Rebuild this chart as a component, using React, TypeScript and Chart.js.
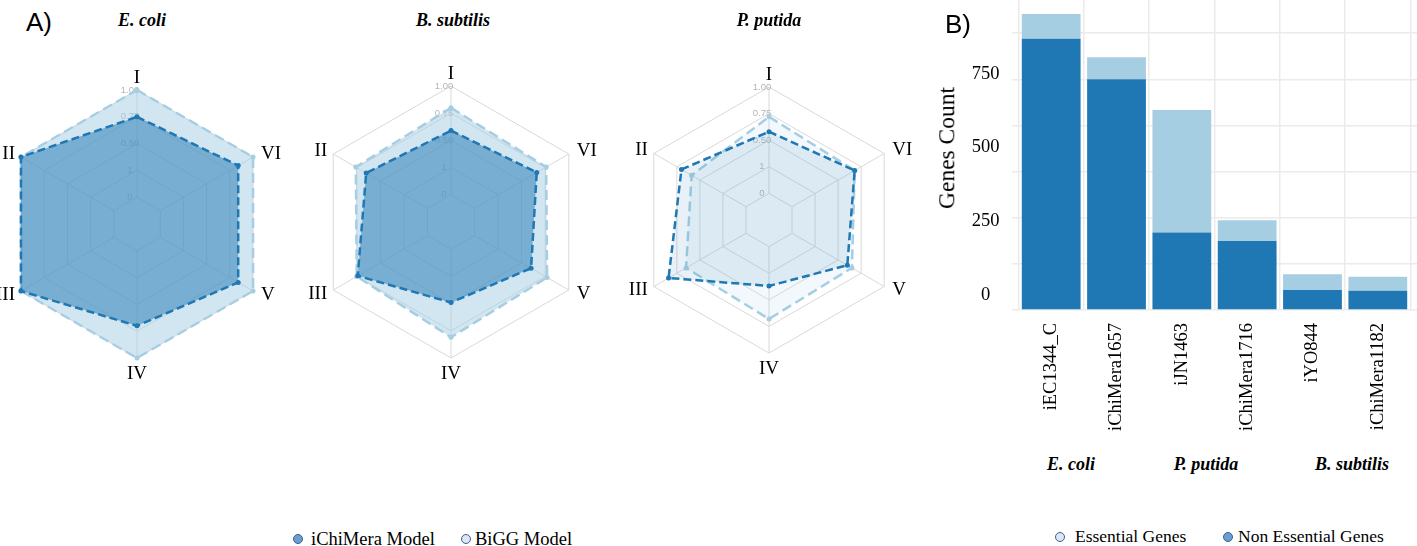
import React, { useEffect, useRef } from "react";
import { Chart, registerables } from "chart.js";
Chart.register(...registerables);

// ---------- data ----------
const DARK = "#1f78b4";
const LIGHT = "#a6cee3";

// radar axes, clockwise from the top
const AXES = ["I", "VI", "V", "IV", "III", "II"];
const RADAR_TICKS = [0, 0.25, 0.5, 0.75, 1];
const RADAR_TICK_LABELS = ["0", "1", "0.50", "0.75", "1.00"];

const ECOLI_ICHIMERA = [0.75, 0.84, 0.84, 0.7, 1.0, 1.0];
const ECOLI_BIGG = [1.0, 1.0, 1.0, 1.0, 1.0, 1.0];
const BSUB_ICHIMERA = [0.59, 0.66, 0.6, 0.49, 0.74, 0.65];
const BSUB_BIGG = [0.8, 0.76, 0.77, 0.81, 0.75, 0.76];
const PPUT_ICHIMERA = [0.58, 0.68, 0.6, 0.37, 0.84, 0.7];
const PPUT_BIGG = [0.72, 0.68, 0.65, 0.68, 0.65, 0.59];

const MODELS = ["iEC1344_C", "iChiMera1657", "iJN1463", "iChiMera1716", "iYO844", "iChiMera1182"];
const NON_ESSENTIAL = [735, 625, 210, 187, 54, 52];
const ESSENTIAL = [67, 60, 332, 56, 43, 38];
const GRID_TICKS = [0, 125, 250, 375, 500, 625, 750];
const Y_LABEL_TICKS = [0, 250, 500, 750];

const SERIF = '"Liberation Serif", "Times New Roman", serif';
const SANS = '"Liberation Sans", Arial, sans-serif';

function rgba(hex: string, a: number) {
  const n = parseInt(hex.slice(1), 16);
  return `rgba(${(n >> 16) & 255},${(n >> 8) & 255},${n & 255},${a})`;
}

const radarDecor = {
  id: "radarDecor",
  beforeDatasetsDraw(chart: any) {
    const s = chart.scales.r;
    const ctx = chart.ctx;
    const n = chart.data.labels.length;
    ctx.save();
    ctx.strokeStyle = "#d9d9d9";
    ctx.lineWidth = 1;
    for (let i = 0; i < n; i++) {
      const a = s.getPointPositionForValue(i, 0);
      const b = s.getPointPositionForValue(i, s.max);
      ctx.beginPath();
      ctx.moveTo(a.x, a.y);
      ctx.lineTo(b.x, b.y);
      ctx.stroke();
    }
    ctx.fillStyle = "#b5b5b5";
    ctx.font = `9.5px ${SANS}`;
    ctx.textAlign = "center";
    ctx.textBaseline = "middle";
    RADAR_TICKS.forEach((t, k) => {
      const d = s.getDistanceFromCenterForValue(t);
      ctx.fillText(RADAR_TICK_LABELS[k], s.xCenter - 7, s.yCenter - d);
    });
    ctx.restore();
  },
  afterDraw(chart: any) {
    const s = chart.scales.r;
    const ctx = chart.ctx;
    const labels = chart.data.labels;
    ctx.save();
    ctx.fillStyle = "#000";
    ctx.font = `19px ${SERIF}`;
    ctx.textBaseline = "middle";
    labels.forEach((lab: string, i: number) => {
      const p = s.getPointPositionForValue(i, s.max);
      const c = Math.cos(p.angle);
      const sn = Math.sin(p.angle);
      let x = p.x;
      let y = p.y;
      if (Math.abs(c) < 0.1) {
        ctx.textAlign = "center";
        y += sn < 0 ? -12 : 16;
      } else {
        ctx.textAlign = c > 0 ? "left" : "right";
        x += c > 0 ? 8 : -6;
        y += sn < 0 ? -3 : 4;
      }
      ctx.fillText(lab, x, y);
    });
    ctx.restore();
  },
};

function RadarPanel(props: {
  cx: number; cy: number; r: number;
  dark: number[]; light: number[];
  darkAlpha: number; lightAlpha: number;
}) {
  const ref = useRef<HTMLCanvasElement>(null);
  const W = 320, H = 340;
  useEffect(() => {
    const padX = W / 2 - props.r;
    const padY = H / 2 - props.r;
    const chart = new Chart(ref.current as HTMLCanvasElement, {
      type: "radar",
      data: {
        labels: AXES,
        datasets: [
          {
            label: "iChiMera Model",
            data: props.dark,
            borderColor: DARK,
            backgroundColor: rgba(DARK, props.darkAlpha),
            borderWidth: 2.5,
            borderDash: [8, 4],
            pointRadius: 2.5,
            pointBackgroundColor: DARK,
            pointBorderWidth: 0,
            fill: "start",
          },
          {
            label: "BiGG Model",
            data: props.light,
            borderColor: LIGHT,
            backgroundColor: rgba(LIGHT, props.lightAlpha),
            borderWidth: 2.5,
            borderDash: [10, 5],
            pointRadius: 2.5,
            pointBackgroundColor: LIGHT,
            pointBorderWidth: 0,
            fill: "start",
          },
        ],
      },
      options: {
        responsive: false,
        animation: false,
        layout: { padding: { left: padX, right: padX, top: padY, bottom: padY } },
        plugins: { legend: { display: false }, tooltip: { enabled: false } },
        elements: { line: { tension: 0 } },
        scales: {
          r: {
            min: -0.25,
            max: 1,
            ticks: { display: false, stepSize: 0.25 },
            pointLabels: { display: false },
            grid: { color: "#d9d9d9", lineWidth: 1 },
            angleLines: { display: false },
          },
        },
      },
      plugins: [radarDecor],
    } as any);
    return () => chart.destroy();
  }, []);
  return (
    <canvas
      ref={ref}
      width={W}
      height={H}
      style={{ position: "absolute", left: props.cx - W / 2, top: props.cy - H / 2, width: W, height: H }}
    />
  );
}

function BarPanel() {
  const ref = useRef<HTMLCanvasElement>(null);
  const W = 517, H = 450;
  useEffect(() => {
    const chart = new Chart(ref.current as HTMLCanvasElement, {
      type: "bar",
      data: {
        datasets: [
          {
            label: "Non Essential Genes",
            data: NON_ESSENTIAL.map((v, i) => ({ x: i, y: v })),
            backgroundColor: DARK,
            borderWidth: 0,
            categoryPercentage: 1,
            barPercentage: 0.9,
          },
          {
            label: "Essential Genes",
            data: ESSENTIAL.map((v, i) => ({ x: i, y: v })),
            backgroundColor: LIGHT,
            borderWidth: 0,
            categoryPercentage: 1,
            barPercentage: 0.9,
          },
        ],
      },
      options: {
        responsive: false,
        animation: false,
        layout: { padding: 0 },
        plugins: { legend: { display: false }, tooltip: { enabled: false } },
        scales: {
          x: {
            type: "linear",
            min: -0.6,
            max: 5.6,
            stacked: true,
            offset: false,
            grid: { color: "#ebebeb", lineWidth: 1.5, drawTicks: false },
            border: { display: false },
            afterBuildTicks: (s: any) => { s.ticks = MODELS.map((_, i) => ({ value: i })); },
            ticks: {
              autoSkip: false,
              minRotation: 90,
              maxRotation: 90,
              padding: 13,
              color: "#000",
              font: { family: SERIF, size: 18.5 },
              callback: (v: any) => MODELS[v],
            },
            afterFit: (s: any) => { s.height = 140; s.paddingLeft = 0; s.paddingRight = 0; },
          },
          y: {
            stacked: true,
            min: 0,
            max: 840,
            position: "left",
            afterBuildTicks: (s: any) => { s.ticks = GRID_TICKS.map((v) => ({ value: v })); },
            grid: { color: "#ebebeb", lineWidth: 1.5, drawTicks: false },
            border: { display: false },
            ticks: { display: false },
            afterFit: (s: any) => { s.width = 0; s.paddingTop = 0; s.paddingBottom = 0; },
          },
          yl: {
            position: "left",
            min: -51,
            max: 1001,
            grid: { display: false, drawTicks: false },
            border: { display: false },
            afterBuildTicks: (s: any) => { s.ticks = Y_LABEL_TICKS.map((v) => ({ value: v })); },
            ticks: { crossAlign: "center", padding: 12.5, color: "#000", font: { family: SERIF, size: 18.5 } },
            afterFit: (s: any) => { s.width = 112; s.paddingTop = 0; s.paddingBottom = 0; },
          },
        },
      },
    } as any);
    return () => chart.destroy();
  }, []);
  return (
    <canvas ref={ref} width={W} height={H} style={{ position: "absolute", left: 900, top: 0, width: W, height: H }} />
  );
}

function Txt(props: { x: number; y: number; font: string; children: any; rotate?: boolean }) {
  return (
    <div
      style={{
        position: "absolute",
        left: props.x,
        top: props.y,
        transform: `translate(-50%,-50%)${props.rotate ? " rotate(-90deg)" : ""}`,
        font: props.font,
        lineHeight: 1,
        whiteSpace: "nowrap",
        color: "#000",
      }}
    >
      {props.children}
    </div>
  );
}

function Dot(props: { x: number; y: number; fill: string }) {
  return (
    <div
      style={{
        position: "absolute",
        left: props.x - 5.5,
        top: props.y - 5.5,
        width: 8,
        height: 8,
        borderRadius: "50%",
        background: props.fill,
        border: "1.5px solid #3f5f8c",
      }}
    />
  );
}

function LegendText(props: { x: number; y: number; size: number; children: any }) {
  return (
    <div
      style={{
        position: "absolute",
        left: props.x,
        top: props.y,
        transform: "translateY(-50%)",
        font: `${props.size}px ${SERIF}`,
        lineHeight: 1,
        whiteSpace: "nowrap",
        color: "#000",
      }}
    >
      {props.children}
    </div>
  );
}

export default function App() {
  const title = `italic bold 18px ${SERIF}`;
  return (
    <div
      style={{
        position: "fixed",
        left: 0,
        top: 0,
        width: 1417,
        height: 546,
        overflow: "hidden",
        background: "#fff",
      }}
    >
      <RadarPanel cx={137} cy={224} r={134} dark={ECOLI_ICHIMERA} light={ECOLI_BIGG} darkAlpha={0.5} lightAlpha={0.5} />
      <RadarPanel cx={451} cy={222} r={136} dark={BSUB_ICHIMERA} light={BSUB_BIGG} darkAlpha={0.5} lightAlpha={0.5} />
      <RadarPanel cx={769} cy={220} r={133} dark={PPUT_ICHIMERA} light={PPUT_BIGG} darkAlpha={0.1} lightAlpha={0.15} />
      <BarPanel />

      <Txt x={39} y={22} font={`26px ${SANS}`}>A)</Txt>
      <Txt x={958} y={24} font={`26px ${SANS}`}>B)</Txt>
      <Txt x={142} y={20} font={title}>E. coli</Txt>
      <Txt x={453} y={20} font={title}>B. subtilis</Txt>
      <Txt x={769} y={20} font={title}>P. putida</Txt>

      <Txt x={947} y={148} font={`23.5px ${SERIF}`} rotate>Genes Count</Txt>

      <Txt x={1071} y={464} font={title}>E. coli</Txt>
      <Txt x={1206} y={464} font={title}>P. putida</Txt>
      <Txt x={1352} y={464} font={title}>B. subtilis</Txt>

      <Dot x={298} y={539} fill="#6a9fcf" />
      <LegendText x={311} y={539} size={18.5}>iChiMera Model</LegendText>
      <Dot x={466} y={539} fill="#dbe8f4" />
      <LegendText x={475} y={539} size={18.5}>BiGG Model</LegendText>

      <Dot x={1060} y={537} fill="#dbe8f4" />
      <LegendText x={1075} y={537} size={17.5}>Essential Genes</LegendText>
      <Dot x={1228} y={537} fill="#6a9fcf" />
      <LegendText x={1238} y={537} size={17.5}>Non Essential Genes</LegendText>
    </div>
  );
}
